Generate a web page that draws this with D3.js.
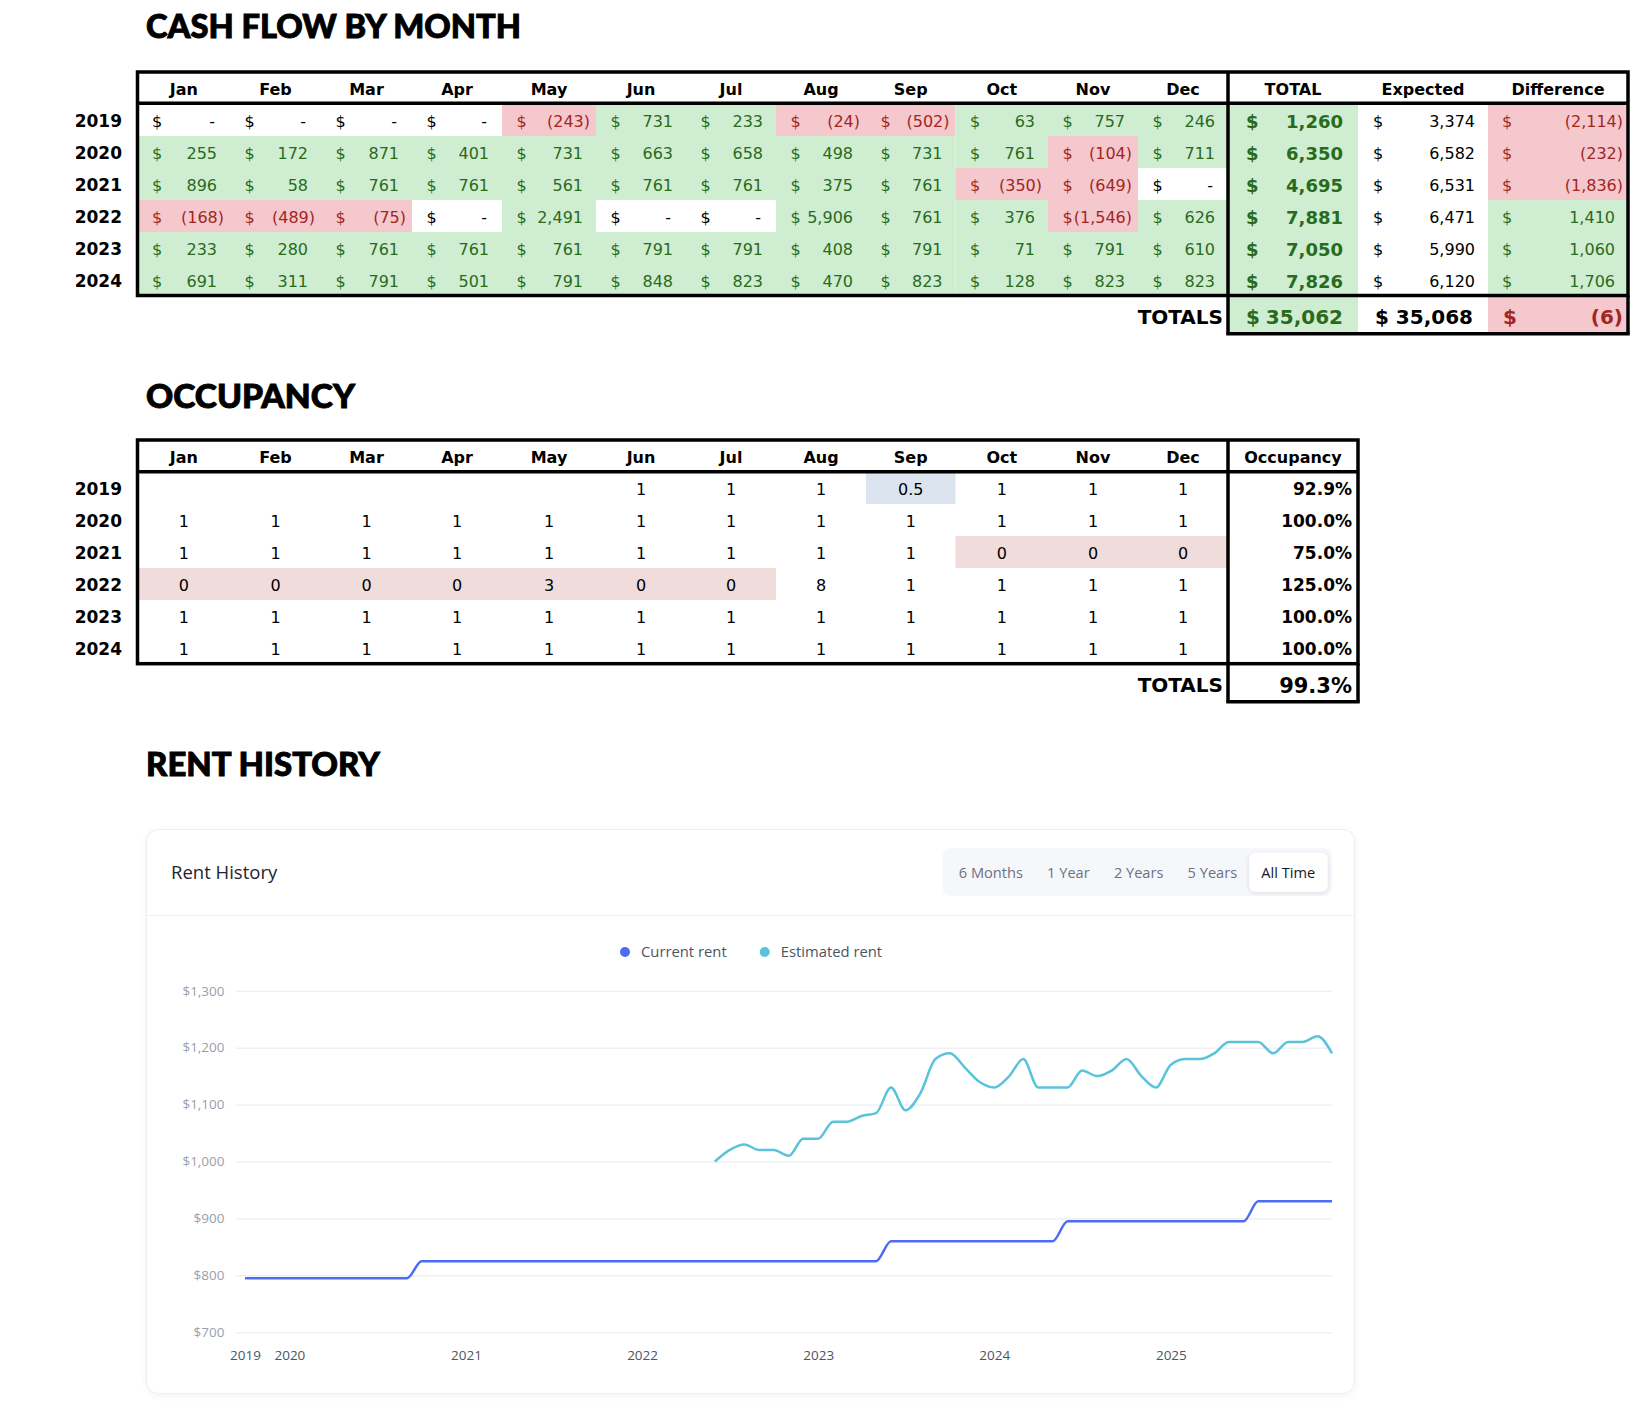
<!DOCTYPE html>
<html>
<head>
<meta charset="utf-8">
<script src="https://cdn.jsdelivr.net/npm/d3@7"></script>
<style>
  body { margin: 0; background: #fff; }
  svg { display: block; }
</style>
</head>
<body>
<svg id="chart" width="1650" height="1414"></svg>
<script>
'use strict';

// ---- data ----
var months = ['Jan','Feb','Mar','Apr','May','Jun','Jul','Aug','Sep','Oct','Nov','Dec'];
var years = [2019, 2020, 2021, 2022, 2023, 2024];

var cashFlow = [
  [0, 0, 0, 0, -243, 731, 233, -24, -502, 63, 757, 246],
  [255, 172, 871, 401, 731, 663, 658, 498, 731, 761, -104, 711],
  [896, 58, 761, 761, 561, 761, 761, 375, 761, -350, -649, 0],
  [-168, -489, -75, 0, 2491, 0, 0, 5906, 761, 376, -1546, 626],
  [233, 280, 761, 761, 761, 791, 791, 408, 791, 71, 791, 610],
  [691, 311, 791, 501, 791, 848, 823, 470, 823, 128, 823, 823]
];
var cashTotal = [1260, 6350, 4695, 7881, 7050, 7826];
var cashExpected = [3374, 6582, 6531, 6471, 5990, 6120];
var cashDifference = [-2114, -232, -1836, 1410, 1060, 1706];
var summaryCols = ['TOTAL', 'Expected', 'Difference'];
var grandTotals = [35062, 35068, -6];

var occupancy = [
  [null, null, null, null, null, 1, 1, 1, 0.5, 1, 1, 1],
  [1, 1, 1, 1, 1, 1, 1, 1, 1, 1, 1, 1],
  [1, 1, 1, 1, 1, 1, 1, 1, 1, 0, 0, 0],
  [0, 0, 0, 0, 3, 0, 0, 8, 1, 1, 1, 1],
  [1, 1, 1, 1, 1, 1, 1, 1, 1, 1, 1, 1],
  [1, 1, 1, 1, 1, 1, 1, 1, 1, 1, 1, 1]
];
var occupancyRate = [0.929, 1.0, 0.75, 1.25, 1.0, 1.0];
var occupancyTotal = 0.993;
var occupancyMarks = [
  {year: 2019, from: 'Sep', to: 'Sep', kind: 'partial'},
  {year: 2021, from: 'Oct', to: 'Dec', kind: 'vacant'},
  {year: 2022, from: 'Jan', to: 'Jul', kind: 'vacant'}
];

var rangeButtons = ['6 Months', '1 Year', '2 Years', '5 Years', 'All Time'];
var rentSeries = ['Current rent', 'Estimated rent'];
var currentRent = [
  ['2019-10', 795], ['2020-09', 795], ['2020-10', 825], ['2023-05', 825],
  ['2023-06', 860], ['2024-05', 860], ['2024-06', 895], ['2025-06', 895],
  ['2025-07', 930], ['2025-12', 930]
];
var estimatedStart = '2022-06';
var estimatedRent = [1000, 1020, 1030, 1020, 1020, 1010, 1040, 1040, 1070, 1070, 1080, 1085,
  1130, 1090, 1120, 1180, 1190, 1165, 1140, 1130, 1150, 1180, 1130, 1130, 1130, 1160, 1150,
  1160, 1180, 1150, 1130, 1170, 1180, 1180, 1190, 1210, 1210, 1210, 1190, 1210, 1210, 1220, 1190];
var yearTicks = ['2019-10', '2020-01', '2021-01', '2022-01', '2023-01', '2024-01', '2025-01'];

// ---- look ----
var FONT = "'DejaVu Sans', Verdana, sans-serif",
    UI = "'Open Sans', 'Noto Sans', sans-serif",
    GREEN_BG = '#cfeed1', GREEN_TX = '#2a6a1d',
    RED_BG = '#f5c8cd', RED_TX = '#a2261f',
    PINK = '#efdcdb', BLUE = '#dce5ef',
    BLUE_LINE = '#4b6cf5', CYAN_LINE = '#5ac3da';

var svg = d3.select('#chart'),
    fmt = d3.format(','),
    pct = d3.format('.1%'),
    parseMonth = d3.timeParse('%Y-%m');

var colW = [92.5, 91, 91, 90, 94, 90, 90, 90, 89.5, 92.5, 90, 90];
var xCol = d3.scaleOrdinal().domain(months).range(Array.from(d3.cumsum([137.5].concat(colW.slice(0, -1)))));
var wCol = d3.scaleOrdinal().domain(months).range(colW);
var xSum = d3.scaleOrdinal().domain(summaryCols).range([1228, 1358, 1488]);
var wSum = d3.scaleOrdinal().domain(summaryCols).range([130, 130, 140]);

function txt(g, x, y, s, o) {
  o = o || {};
  return g.append('text').attr('x', x).attr('y', y).attr('dy', '0.42em')
    .attr('text-anchor', o.anchor || 'start')
    .style('font-family', o.font || FONT)
    .style('font-size', (o.size || 16) + 'px')
    .style('font-weight', o.weight || 400)
    .attr('fill', o.color || '#000').text(s);
}

// accounting style: "$" on the left, number pushed right, negatives in brackets
function money(g, v, x0, x1, yc, o) {
  var col = v > 0 ? (o.pos || GREEN_TX) : v < 0 ? RED_TX : '#000';
  if (o.plain) col = '#000';
  var st = {size: o.size, weight: o.weight, color: col};
  txt(g, x0 + o.lp, yc, '$', st);
  var s, end;
  if (v < 0) { s = '(' + fmt(-v) + ')'; end = x1 - (o.np || 6); }
  else if (v > 0) { s = fmt(v); end = x1 - o.pp; }
  else { s = '-'; end = x1 - 15; }
  txt(g, end, yc, s, {size: o.size, weight: o.weight, color: col, anchor: 'end'});
}

function title(s, y, len) {
  svg.append('text').attr('x', 146).attr('y', y)
    .style('font-family', "Lato, 'Open Sans', sans-serif")
    .style('font-weight', 900).style('font-size', '32px')
    .attr('stroke', '#000').attr('stroke-width', 0.9)
    .attr('textLength', len).attr('lengthAdjust', 'spacingAndGlyphs')
    .text(s);
}

function frame(g, top, head, bottom, splitX, rightX, totBottom) {
  var ln = function(x1, y1, x2, y2) {
    g.append('line').attr('x1', x1).attr('y1', y1).attr('x2', x2).attr('y2', y2)
      .attr('stroke', '#000').attr('stroke-width', 3.5);
  };
  g.append('rect').attr('x', 137.5).attr('y', top).attr('width', rightX - 137.5)
    .attr('height', bottom - top).attr('fill', 'none').attr('stroke', '#000').attr('stroke-width', 3.5);
  ln(137.5, head, rightX, head);
  ln(splitX, top, splitX, totBottom);
  ln(rightX, bottom, rightX, totBottom);
  ln(splitX - 1.75, totBottom, rightX + 1.75, totBottom);
}

// ================= CASH FLOW =================
title('CASH FLOW BY MONTH', 38, 375);
var cash = svg.append('g');
var yCash = d3.scaleBand().domain(years).range([104, 296]);
var cashCells = [];
years.forEach(function(yr, i) {
  months.forEach(function(m, j) { cashCells.push({yr: yr, m: m, v: cashFlow[i][j]}); });
});

cash.selectAll('rect.cell').data(cashCells.filter(function(d) { return d.v !== 0; }))
  .join('rect').attr('class', 'cell')
  .attr('x', function(d) { return xCol(d.m); }).attr('y', function(d) { return yCash(d.yr); })
  .attr('width', function(d) { return wCol(d.m); }).attr('height', yCash.bandwidth())
  .attr('fill', function(d) { return d.v > 0 ? GREEN_BG : RED_BG; });

// summary columns backgrounds
cash.selectAll('rect.tot').data(years).join('rect').attr('class', 'tot')
  .attr('x', xSum('TOTAL')).attr('y', function(d) { return yCash(d); })
  .attr('width', wSum('TOTAL')).attr('height', yCash.bandwidth()).attr('fill', GREEN_BG);
cash.selectAll('rect.diff').data(years).join('rect').attr('class', 'diff')
  .attr('x', xSum('Difference')).attr('y', function(d) { return yCash(d); })
  .attr('width', wSum('Difference')).attr('height', yCash.bandwidth())
  .attr('fill', function(d, i) { return cashDifference[i] < 0 ? RED_BG : GREEN_BG; });
cash.append('rect').attr('x', xSum('TOTAL')).attr('y', 296).attr('width', wSum('TOTAL')).attr('height', 38).attr('fill', GREEN_BG);
cash.append('rect').attr('x', xSum('Difference')).attr('y', 296).attr('width', wSum('Difference')).attr('height', 38)
  .attr('fill', grandTotals[2] < 0 ? RED_BG : GREEN_BG);

// headers
months.forEach(function(m) { txt(cash, xCol(m) + wCol(m) / 2, 88, m, {anchor: 'middle', weight: 700}); });
summaryCols.forEach(function(c) { txt(cash, xSum(c) + wSum(c) / 2, 88, c, {anchor: 'middle', weight: 700}); });

years.forEach(function(yr, i) {
  var yc = yCash(yr) + yCash.bandwidth() / 2;
  txt(cash, 122, yc, String(yr), {anchor: 'end', weight: 700, size: 17});
});

cashCells.forEach(function(d) {
  var x0 = xCol(d.m);
  money(cash, d.v, x0, x0 + wCol(d.m), yCash(d.yr) + 16, {size: 16, lp: 14.5, pp: 13});
});

years.forEach(function(yr, i) {
  var yc = yCash(yr) + 16;
  money(cash, cashTotal[i], xSum('TOTAL'), xSum('TOTAL') + wSum('TOTAL'), yc, {size: 18, weight: 700, lp: 18, pp: 15});
  money(cash, cashExpected[i], xSum('Expected'), xSum('Expected') + wSum('Expected'), yc, {size: 16, lp: 15, pp: 13, plain: true});
  money(cash, cashDifference[i], xSum('Difference'), xSum('Difference') + wSum('Difference'), yc, {size: 16, lp: 14, pp: 13, np: 5});
});

txt(cash, 1223, 316, 'TOTALS', {anchor: 'end', weight: 700, size: 20});
money(cash, grandTotals[0], xSum('TOTAL'), xSum('TOTAL') + wSum('TOTAL'), 316, {size: 20, weight: 700, lp: 18, pp: 15});
money(cash, grandTotals[1], xSum('Expected'), xSum('Expected') + wSum('Expected'), 316, {size: 20, weight: 700, lp: 17, pp: 15, plain: true});
money(cash, grandTotals[2], xSum('Difference'), xSum('Difference') + wSum('Difference'), 316, {size: 20, weight: 700, lp: 15, np: 5});

frame(cash, 72, 103.3, 295.5, 1228, 1628, 333.8);

// ================= OCCUPANCY =================
title('OCCUPANCY', 408, 209);
var occ = svg.append('g');
var yOcc = d3.scaleBand().domain(years).range([472, 664]);

occ.selectAll('rect.mark').data(occupancyMarks).join('rect').attr('class', 'mark')
  .attr('x', function(d) { return xCol(d.from); })
  .attr('y', function(d) { return yOcc(d.year); })
  .attr('width', function(d) { return xCol(d.to) + wCol(d.to) - xCol(d.from); })
  .attr('height', yOcc.bandwidth())
  .attr('fill', function(d) { return d.kind === 'partial' ? BLUE : PINK; });

months.forEach(function(m) { txt(occ, xCol(m) + wCol(m) / 2, 456.5, m, {anchor: 'middle', weight: 700}); });
txt(occ, 1293, 456.5, 'Occupancy', {anchor: 'middle', weight: 700});

years.forEach(function(yr, i) {
  var yc = yOcc(yr) + yOcc.bandwidth() / 2;
  txt(occ, 122, yc, String(yr), {anchor: 'end', weight: 700, size: 17});
  occupancy[i].forEach(function(v, j) {
    if (v === null) return;
    txt(occ, xCol(months[j]) + wCol(months[j]) / 2, yc, String(v), {anchor: 'middle'});
  });
  txt(occ, 1352, yc, pct(occupancyRate[i]), {anchor: 'end', weight: 700, size: 17});
});
txt(occ, 1223, 684, 'TOTALS', {anchor: 'end', weight: 700, size: 20});
txt(occ, 1352, 684, pct(occupancyTotal), {anchor: 'end', weight: 700, size: 21});

frame(occ, 440, 471.7, 663.7, 1228, 1358, 701.7);

// ================= RENT HISTORY =================
title('RENT HISTORY', 776, 234);

var defs = svg.append('defs');
defs.append('filter').attr('id', 'soft').attr('x', '-5%').attr('y', '-5%').attr('width', '110%').attr('height', '115%')
  .append('feDropShadow').attr('dx', 0).attr('dy', 2).attr('stdDeviation', 3)
  .attr('flood-color', '#1f2a44').attr('flood-opacity', 0.05);
defs.append('filter').attr('id', 'btn').attr('x', '-20%').attr('y', '-30%').attr('width', '140%').attr('height', '170%')
  .append('feDropShadow').attr('dx', 0).attr('dy', 1).attr('stdDeviation', 2)
  .attr('flood-color', '#1f2a44').attr('flood-opacity', 0.12);

var card = svg.append('g');
card.append('rect').attr('x', 146.5).attr('y', 829.5).attr('width', 1208).attr('height', 564)
  .attr('rx', 12).attr('fill', '#fff').attr('stroke', '#eceef4').attr('filter', 'url(#soft)');
card.append('line').attr('x1', 147).attr('x2', 1354).attr('y1', 915.5).attr('y2', 915.5).attr('stroke', '#eef0f5');
card.append('text').attr('x', 171).attr('y', 879).style('font-family', UI).style('font-size', '18.5px')
  .style('font-weight', 500).attr('fill', '#1f2430').text('Rent History');

// range buttons
var btnG = card.append('g'), bgRect = btnG.append('rect'), actRect = btnG.append('rect');
var cursor = 958.8, spans = [];
rangeButtons.forEach(function(b, i) {
  var last = i === rangeButtons.length - 1;
  var t = btnG.append('text').attr('x', cursor).attr('y', 877.5)
    .style('font-family', UI).style('font-size', '14.6px')
    .attr('fill', last ? '#111827' : '#6b7280').text(b);
  var w = t.node().getComputedTextLength();
  spans.push([cursor, cursor + w]);
  cursor += w + 24.2;
});
var lastSpan = spans[spans.length - 1];
bgRect.attr('x', spans[0][0] - 16).attr('y', 848).attr('width', lastSpan[1] + 16.5 - (spans[0][0] - 16))
  .attr('height', 48).attr('rx', 8).attr('fill', '#f6f7fb');
actRect.attr('x', lastSpan[0] - 12.3).attr('y', 852.7).attr('width', lastSpan[1] - lastSpan[0] + 24.7)
  .attr('height', 39).attr('rx', 6).attr('fill', '#fff').attr('filter', 'url(#btn)');

// scales
var x = d3.scaleTime().domain([parseMonth('2019-10'), parseMonth('2025-12')]).range([245, 1332]);
var y = d3.scaleLinear().domain([700, 1300]).range([1332.3, 990.7]);

var yAxis = card.append('g').attr('transform', 'translate(236,0)')
  .call(d3.axisLeft(y).tickValues(y.ticks(6)).tickSize(-(1332 - 236)).tickPadding(11.5)
    .tickFormat(d3.format('$,')));
yAxis.select('.domain').remove();
yAxis.selectAll('.tick line').attr('stroke', '#e6e8ef');
yAxis.selectAll('.tick text').attr('fill', '#9aa0ad').style('font-family', UI).style('font-size', '13.5px');

var xAxis = card.append('g').attr('transform', 'translate(0,1340)')
  .call(d3.axisBottom(x).tickValues(yearTicks.map(parseMonth)).tickSize(0).tickPadding(10)
    .tickFormat(d3.timeFormat('%Y')));
xAxis.select('.domain').remove();
xAxis.selectAll('.tick text').attr('fill', '#4b5563').style('font-family', UI).style('font-size', '13.5px');

// lines
var line = d3.line().x(function(d) { return x(d.date); }).y(function(d) { return y(d.value); })
  .curve(d3.curveMonotoneX);
var currentPts = currentRent.map(function(d) { return {date: parseMonth(d[0]), value: d[1]}; });
var estPts = estimatedRent.map(function(v, i) {
  return {date: d3.timeMonth.offset(parseMonth(estimatedStart), i), value: v};
});
card.append('path').datum(estPts).attr('d', line).attr('fill', 'none')
  .attr('stroke', CYAN_LINE).attr('stroke-width', 2.5);
card.append('path').datum(currentPts).attr('d', line).attr('fill', 'none')
  .attr('stroke', BLUE_LINE).attr('stroke-width', 2.5);

// legend
var lg = card.append('g'), lx = 625;
rentSeries.forEach(function(s, i) {
  lg.append('circle').attr('cx', lx).attr('cy', 952).attr('r', 5).attr('fill', i ? CYAN_LINE : BLUE_LINE);
  var t = lg.append('text').attr('x', lx + 16).attr('y', 957).style('font-family', UI)
    .style('font-size', '14.8px').attr('fill', '#4b5563').text(s);
  lx += 16 + t.node().getComputedTextLength() + 38;
});
</script>
</body>
</html>
